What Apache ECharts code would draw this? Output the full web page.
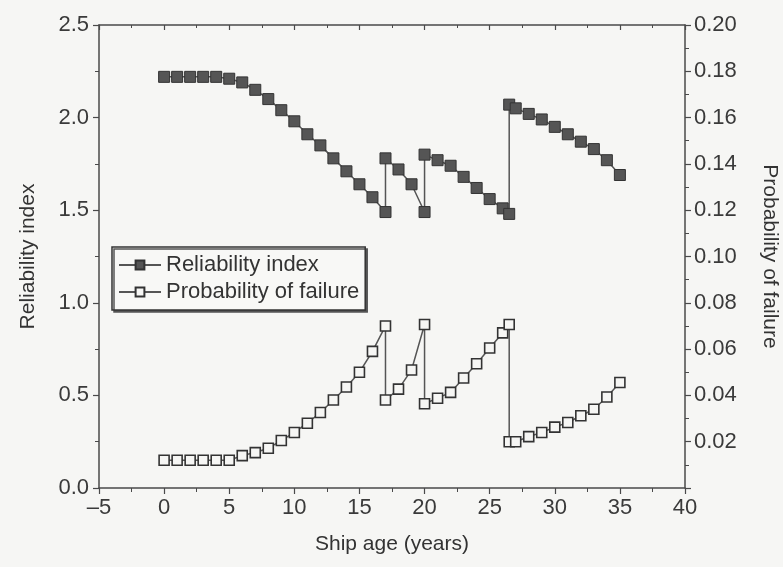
<!DOCTYPE html>
<html>
<head>
<meta charset="utf-8">
<script src="https://cdn.jsdelivr.net/npm/echarts@6/dist/echarts.min.js"></script>
<style>
html,body{margin:0;padding:0;background:#f6f6f4;}
#chart{width:783px;height:567px;}
</style>
</head>
<body>
<div id="chart"></div>
<script>
// Ship age (years)
var shipAge = [0,1,2,3,4,5,6,7,8,9,10,11,12,13,14,15,16,17,17,18,19,20,20,21,22,23,24,25,26,26.5,26.5,27,28,29,30,31,32,33,34,35];
// Reliability index (left axis)
var reliabilityIndex = [2.22,2.22,2.22,2.22,2.22,2.21,2.19,2.15,2.10,2.04,1.98,1.91,1.85,1.78,1.71,1.64,1.57,1.49,1.78,1.72,1.64,1.49,1.80,1.77,1.74,1.68,1.62,1.56,1.51,1.48,2.07,2.05,2.02,1.99,1.95,1.91,1.87,1.83,1.77,1.69];
// Probability of failure (right axis)
var probabilityOfFailure = [0.012,0.012,0.012,0.012,0.012,0.012,0.014,0.0153,0.0172,0.0205,0.024,0.028,0.0326,0.038,0.0436,0.050,0.059,0.070,0.038,0.0427,0.051,0.0706,0.0364,0.0388,0.0413,0.0475,0.0537,0.0605,0.067,0.0706,0.020,0.020,0.0222,0.024,0.0263,0.0283,0.0312,0.034,0.0393,0.0456];

var FONT = "'Liberation Sans', Arial, sans-serif";
var INK = '#4a4a4a';

function pairs(xs, ys){ return xs.map(function(x,i){ return [x, ys[i]]; }); }

var chart = echarts.init(document.getElementById('chart'), null, {renderer:'canvas'});
var axisLine = {show:true, onZero:false, lineStyle:{color:INK, width:1.5}};
chart.setOption({
  backgroundColor:'#f6f6f4',
  animation:false,
  grid:{left:99, right:98, top:25, bottom:79, containLabel:false, outerBoundsMode:'none'},
  legend:{
    orient:'vertical', left:112, top:247,
    padding:[7,6,7,6], itemGap:5, itemWidth:42, itemHeight:11,
    borderColor:'#333', borderWidth:1.5, backgroundColor:'#f8f8f6',
    shadowColor:'#555', shadowOffsetX:2, shadowOffsetY:2, shadowBlur:0,
    textStyle:{fontFamily:FONT, fontSize:22, color:'#333'},
    data:['Reliability index','Probability of failure']
  },
  xAxis:[{
    type:'value', min:-5, max:40, interval:5,
    name:'Ship age (years)', nameLocation:'middle', nameGap:46,
    nameTextStyle:{fontFamily:FONT, fontSize:21, color:'#333'},
    axisLine:axisLine,
    axisTick:{show:true, inside:false, length:6, lineStyle:{color:INK, width:1.2}},
    minorTick:{show:true, splitNumber:2, length:4, lineStyle:{color:INK, width:1}},
    axisLabel:{fontFamily:FONT, fontSize:22, color:'#3a3a3a', margin:9,
      formatter:function(v){ return v < 0 ? '\u2013' + Math.abs(v) : String(v); }},
    splitLine:{show:false}
  },{
    type:'value', min:-5, max:40, interval:5, position:'top',
    axisLine:axisLine,
    axisTick:{show:true, inside:true, length:5, lineStyle:{color:INK, width:1.2}},
    minorTick:{show:true, splitNumber:2, length:3, lineStyle:{color:INK}},
    axisLabel:{show:false}, splitLine:{show:false}
  }],
  yAxis:[{
    type:'value', min:0, max:2.5, interval:0.5, position:'left',
    name:'Reliability index', nameLocation:'middle', nameGap:60, nameRotate:90,
    nameTextStyle:{fontFamily:FONT, fontSize:21, color:'#333'},
    axisLine:axisLine,
    axisTick:{show:true, length:6, lineStyle:{color:INK, width:1.2}},
    minorTick:{show:true, splitNumber:2, length:4, lineStyle:{color:INK}},
    axisLabel:{fontFamily:FONT, fontSize:22, color:'#3a3a3a', margin:10,
      formatter:function(v){ return v.toFixed(1); }},
    splitLine:{show:false}
  },{
    type:'value', min:0, max:0.2, interval:0.02, position:'right',
    name:'Probability of failure', nameLocation:'middle', nameGap:74, nameRotate:-90,
    nameTextStyle:{fontFamily:FONT, fontSize:21, color:'#333'},
    axisLine:axisLine,
    axisTick:{show:true, length:6, lineStyle:{color:INK, width:1.2}},
    minorTick:{show:true, splitNumber:2, length:4, lineStyle:{color:INK}},
    axisLabel:{fontFamily:FONT, fontSize:22, color:'#3a3a3a', margin:9,
      formatter:function(v){ return v === 0 ? '' : v.toFixed(2); }},
    splitLine:{show:false}
  }],
  series:[{
    name:'Reliability index', type:'line', xAxisIndex:0, yAxisIndex:0,
    data:pairs(shipAge, reliabilityIndex),
    symbol:'rect', symbolSize:11,
    lineStyle:{color:'#555', width:1.5},
    itemStyle:{color:'#555', borderColor:'#333', borderWidth:1}
  },{
    name:'Probability of failure', type:'line', xAxisIndex:0, yAxisIndex:1,
    data:pairs(shipAge, probabilityOfFailure),
    symbol:'rect', symbolSize:10,
    lineStyle:{color:'#555', width:1.5},
    itemStyle:{color:'#f6f6f4', borderColor:'#333', borderWidth:1.6}
  }]
});
</script>
</body>
</html>
